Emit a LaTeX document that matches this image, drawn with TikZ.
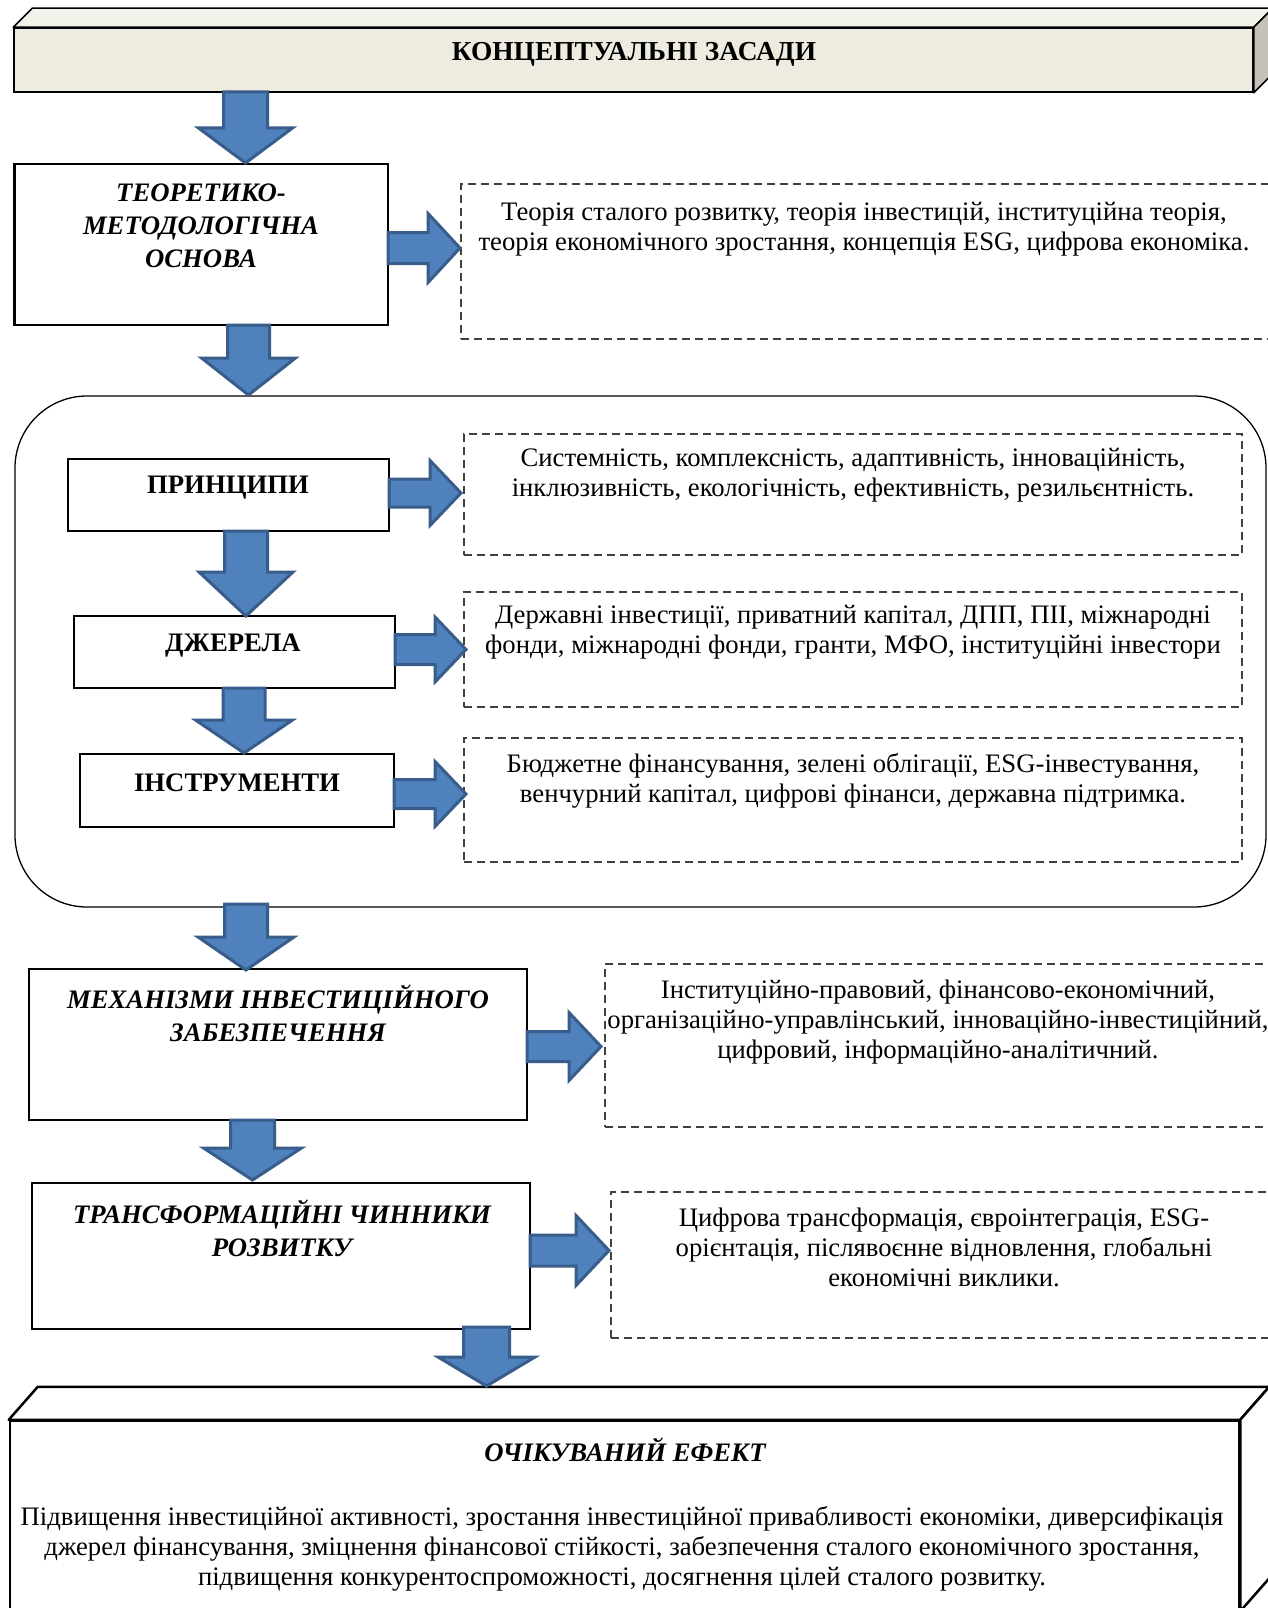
\documentclass[tikz,border=0pt]{standalone}
\usepackage{fontspec}
\setmainfont{Liberation Serif}
\usetikzlibrary{calc}
\definecolor{arrowfill}{HTML}{4F81BD}
\definecolor{arrowline}{HTML}{385D8A}
\definecolor{beigefront}{HTML}{EEECE1}
\definecolor{beigetop}{HTML}{F2F1EA}
\definecolor{beigeside}{HTML}{C4C2B8}
\definecolor{dashgray}{HTML}{404040}
\tikzset{
  solidbox/.style={draw=black, line width=2.5pt, fill=white, inner sep=0pt},
  dashbox/.style={draw=dashgray, line width=1.3pt, dash pattern=on 8pt off 5pt, inner sep=0pt},
  blockarrow/.style={fill=arrowfill, draw=arrowline, line width=3pt, line join=miter},
  txt/.style={font=\fontsize{26.7}{30}\selectfont, align=center, inner sep=0pt},
  headit/.style={font=\fontsize{26.7}{33}\selectfont\bfseries\itshape, align=center, inner sep=0pt},
  headbf/.style={font=\fontsize{26.7}{30}\selectfont\bfseries, align=center, inner sep=0pt},
  face/.style={draw=black, line width=1.6pt, line join=round},
  face3/.style={draw=black, line width=2.5pt, line join=round}
}
% down block arrow: cx, ytop, yhead, ytip, shaft half, head half
\newcommand\blockdown[6]{%
  \draw[blockarrow] ({#1-#5},#2) -- ({#1+#5},#2) -- ({#1+#5},#3) -- ({#1+#6},#3)
    -- (#1,#4) -- ({#1-#6},#3) -- ({#1-#5},#3) -- cycle;}
% right block arrow: xstart, xhead, xtip, cy, shaft half, head half
\newcommand\blockright[6]{%
  \draw[blockarrow] (#1,{#4-#5}) -- (#2,{#4-#5}) -- (#2,{#4-#6}) -- (#3,#4)
    -- (#2,{#4+#6}) -- (#2,{#4+#5}) -- (#1,{#4+#5}) -- cycle;}
\begin{document}
\begin{tikzpicture}[x=1pt,y=-1pt]
\useasboundingbox (0,0) rectangle (1268,1608);
\clip (0,0) rectangle (1268,1608);
\fill[white] (0,0) rectangle (1268,1608);

% ---------- top 3D box ----------
\node[draw=black, line width=1.6pt, fill=beigefront, minimum width=1239pt, minimum height=64pt, inner sep=0pt] (top) at (633.5,60) {};
\filldraw[face, fill=beigetop] (top.north west) -- ($(top.north west)+(19,-19)$) -- ($(top.north east)+(19,-19)$) -- (top.north east) -- cycle;
\filldraw[face, fill=beigeside] (top.north east) -- ($(top.north east)+(19,-19)$) -- ($(top.south east)+(19,-19)$) -- (top.south east) -- cycle;
\node[headbf, font=\fontsize{27.4}{30}\selectfont\bfseries] (toptxt) at (634,54) {КОНЦЕПТУАЛЬНІ ЗАСАДИ};

% ---------- theoretical base ----------
\node[solidbox, minimum width=373.5pt, minimum height=161pt] (teor) at (201.25,244.5) {};
\node[headit] (teortxt) at (201,226) {ТЕОРЕТИКО-\\МЕТОДОЛОГІЧНА\\ОСНОВА};
\node[dashbox, minimum width=814pt, minimum height=155pt] (d1) at (868,261.5) {};
\node[txt] (d1txt) at (864,229) {Теорія сталого розвитку, теорія інвестицій, інституційна теорія,\\теорія економічного зростання, концепція ESG, цифрова економіка.};

% ---------- rounded frame ----------
\node[draw=black, line width=1.3pt, rounded corners=72pt, minimum width=1251pt, minimum height=511pt, inner sep=0pt] (frame) at (640.5,651.5) {};

\node[solidbox, minimum width=321pt, minimum height=72pt] (princ) at (228.5,495) {};
\node[headbf] (princtxt) at (228,488) {ПРИНЦИПИ};
\node[dashbox, minimum width=778pt, minimum height=121pt] (d2) at (853,494.5) {};
\node[txt] (d2txt) at (853,475.5) {Системність, комплексність, адаптивність, інноваційність,\\інклюзивність, екологічність, ефективність, резильєнтність.};

\node[solidbox, minimum width=321pt, minimum height=72pt] (dzh) at (234.5,652) {};
\node[headbf] (dzhtxt) at (233,646) {ДЖЕРЕЛА};
\node[dashbox, minimum width=778pt, minimum height=115pt] (d3) at (853,649.5) {};
\node[txt] (d3txt) at (853,632.5) {Державні інвестиції, приватний капітал, ДПП, ПІІ, міжнародні\\фонди, міжнародні фонди, гранти, МФО, інституційні інвестори};

\node[solidbox, minimum width=314pt, minimum height=73pt] (instr) at (237,790.5) {};
\node[headbf] (instrtxt) at (237,783) {ІНСТРУМЕНТИ};
\node[dashbox, minimum width=778pt, minimum height=124pt] (d4) at (853,800) {};
\node[txt] (d4txt) at (853,781) {Бюджетне фінансування, зелені облігації, ESG-інвестування,\\венчурний капітал, цифрові фінанси, державна підтримка.};

% ---------- mechanisms ----------
\node[solidbox, minimum width=498pt, minimum height=151pt] (mekh) at (278,1044.5) {};
\node[headit] (mekhtxt) at (278,1013.5) {МЕХАНІЗМИ ІНВЕСТИЦІЙНОГО\\ЗАБЕЗПЕЧЕННЯ};
\node[dashbox, minimum width=670pt, minimum height=163pt] (d5) at (940,1045.5) {};
\node[txt] (d5txt) at (938,1022) {Інституційно-правовий, фінансово-економічний,\\організаційно-управлінський, інноваційно-інвестиційний,\\цифровий, інформаційно-аналітичний.};

% ---------- transformation ----------
\node[solidbox, minimum width=498pt, minimum height=146pt] (trans) at (281,1256) {};
\node[headit] (transtxt) at (282,1228) {ТРАНСФОРМАЦІЙНІ ЧИННИКИ\\РОЗВИТКУ};
\node[dashbox, minimum width=664pt, minimum height=146pt] (d6) at (943,1265) {};
\node[txt] (d6txt) at (944,1247) {Цифрова трансформація, євроінтеграція, ESG-\\орієнтація, післявоєнне відновлення, глобальні\\економічні виклики.};

% ---------- bottom 3D box ----------
\node[draw=black, line width=2.5pt, fill=white, minimum width=1229pt, minimum height=189pt, inner sep=0pt] (eff) at (624.5,1515.5) {};
\filldraw[face3, fill=white] (eff.north west) -- ($(eff.north west)+(29,-33)$) -- ($(eff.north east)+(29,-33)$) -- (eff.north east) -- cycle;
\filldraw[face3, fill=white] (eff.north east) -- ($(eff.north east)+(29,-33)$) -- ($(eff.south east)+(29,-33)$) -- (eff.south east) -- cycle;
\node[headit] (efftitle) at (625,1450) {ОЧІКУВАНИЙ ЕФЕКТ};
\node[txt] (efftxt) at (622,1549) {Підвищення інвестиційної активності, зростання інвестиційної привабливості економіки, диверсифікація\\джерел фінансування, зміцнення фінансової стійкості, забезпечення сталого економічного зростання,\\підвищення конкурентоспроможності, досягнення цілей сталого розвитку.};

% ---------- block arrows ----------
\blockdown{245.5}{92}{128}{163}{22}{47}
\blockdown{248.5}{325}{358}{395}{21}{47}
\blockdown{246}{531}{572}{616}{21.5}{47}
\blockdown{244}{688}{720}{753}{21}{48.5}
\blockdown{246}{904}{937}{970}{21.5}{48}
\blockdown{252.5}{1120}{1148}{1180}{22}{49}
\blockdown{486.5}{1327}{1357}{1386}{23}{48.5}

\blockright{388}{428}{460}{248}{15.5}{34.5}
\blockright{389}{430}{461}{493}{14}{32.5}
\blockright{395}{435}{466}{649.5}{15}{32.5}
\blockright{394}{435}{466}{794}{14.5}{32.5}
\blockright{527}{569}{601}{1046.5}{15}{34}
\blockright{530}{576}{609}{1250.5}{15.5}{35}
\end{tikzpicture}
\end{document}
